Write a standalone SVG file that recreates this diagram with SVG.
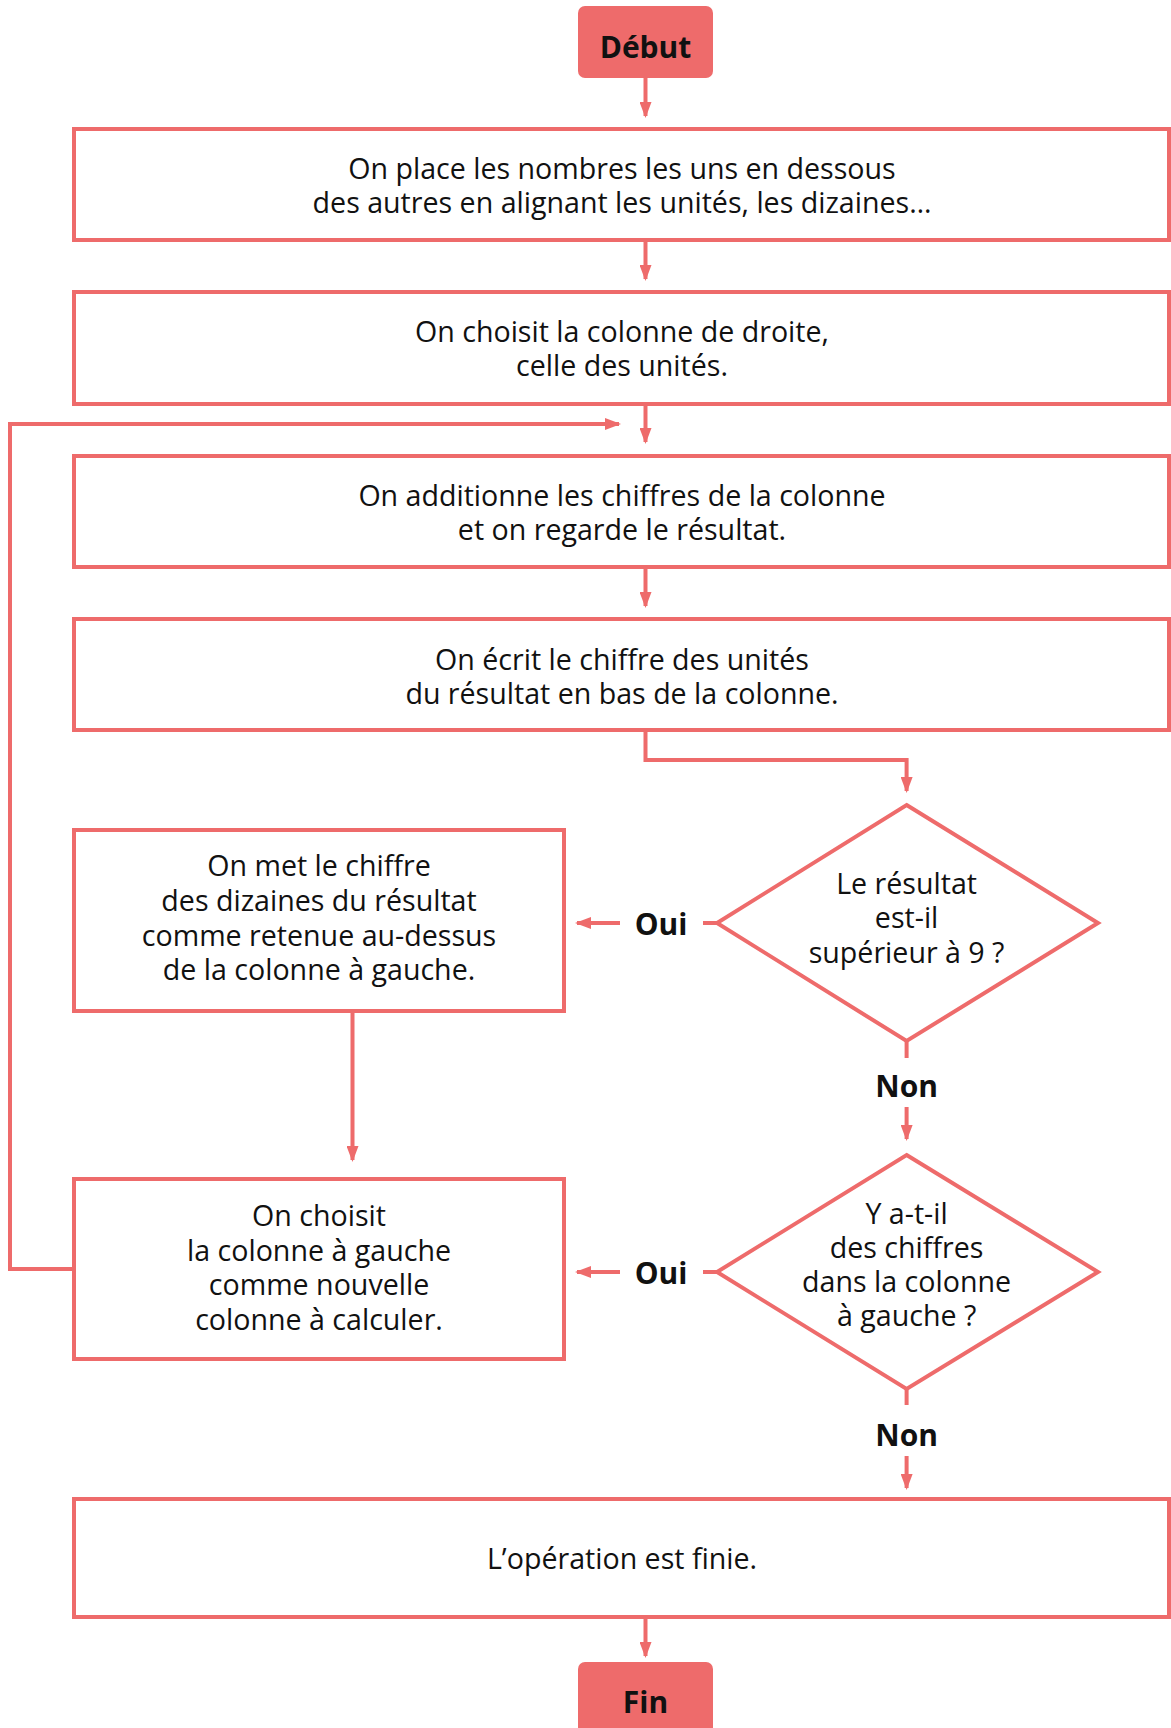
<svg xmlns="http://www.w3.org/2000/svg" width="1171" height="1728" viewBox="0 0 1171 1728">
<style>
.box{fill:#fff;stroke:#ee6b6b;stroke-width:4}
.term{fill:#ee6b6b;stroke:none}
.t{font-family:"Open Sans","Liberation Sans",sans-serif;font-size:28.6px;fill:#111;text-anchor:middle;dominant-baseline:central}
.b{font-family:"Open Sans","Liberation Sans",sans-serif;font-size:30px;font-weight:bold;fill:#111;text-anchor:middle;dominant-baseline:central}
.c{fill:none;stroke:#ee6b6b;stroke-width:4}
</style>
<defs>
<marker id="ah" viewBox="0 0 16 12" refX="14" refY="6" markerWidth="16" markerHeight="12" markerUnits="userSpaceOnUse" orient="auto">
<path d="M0,0 L16,6 L0,12 z" fill="#ee6b6b"/>
</marker>
</defs>
<rect width="1171" height="1728" fill="#fff"/>
<g id="connectors">
<path class="c" d="M645.5,77 V116" marker-end="url(#ah)"/>
<path class="c" d="M645.5,240 V279" marker-end="url(#ah)"/>
<path class="c" d="M645.5,404 V442" marker-end="url(#ah)"/>
<path class="c" d="M74,1269 H10 V424 H619" marker-end="url(#ah)"/>
<path class="c" d="M645.5,567 V606" marker-end="url(#ah)"/>
<path class="c" d="M645.5,730 V760 H906.6 V791" marker-end="url(#ah)"/>
<path class="c" d="M717,923 H703"/>
<path class="c" d="M620,923 H577" marker-end="url(#ah)"/>
<path class="c" d="M906.6,1041 V1058"/>
<path class="c" d="M906.6,1107 V1139" marker-end="url(#ah)"/>
<path class="c" d="M352.5,1011 V1160" marker-end="url(#ah)"/>
<path class="c" d="M717,1272 H703"/>
<path class="c" d="M620,1272 H577" marker-end="url(#ah)"/>
<path class="c" d="M906.6,1389 V1405"/>
<path class="c" d="M906.6,1456 V1488" marker-end="url(#ah)"/>
<path class="c" d="M645.5,1617 V1656" marker-end="url(#ah)"/>
<text class="b" x="661" y="923">Oui</text>
<text class="b" x="661" y="1272">Oui</text>
<text class="b" x="906.6" y="1085">Non</text>
<text class="b" x="906.6" y="1434">Non</text>
</g>
<g id="debut">
<rect class="term" x="578" y="6" width="135" height="72" rx="7"/>
<text class="b" x="645.5" y="46">Début</text>
</g>
<g id="box1">
<rect class="box" x="74" y="129" width="1095" height="111"/>
<text class="t" x="622" y="167">On place les nombres les uns en dessous</text>
<text class="t" x="622" y="201">des autres en alignant les unités, les dizaines…</text>
</g>
<g id="box2">
<rect class="box" x="74" y="292" width="1095" height="112"/>
<text class="t" x="622" y="330.5">On choisit la colonne de droite,</text>
<text class="t" x="622" y="364.5">celle des unités.</text>
</g>
<g id="box3">
<rect class="box" x="74" y="456" width="1095" height="111"/>
<text class="t" x="622" y="494">On additionne les chiffres de la colonne</text>
<text class="t" x="622" y="528.5">et on regarde le résultat.</text>
</g>
<g id="box4">
<rect class="box" x="74" y="619" width="1095" height="111"/>
<text class="t" x="622" y="658">On écrit le chiffre des unités</text>
<text class="t" x="622" y="692">du résultat en bas de la colonne.</text>
</g>
<g id="decision1">
<polygon class="box" points="906.6,805 1098,923 906.6,1041 717,923"/>
<text class="t" x="906.6" y="882">Le résultat</text>
<text class="t" x="906.6" y="916.5">est-il</text>
<text class="t" x="906.6" y="951">supérieur à 9 ?</text>
</g>
<g id="box5">
<rect class="box" x="74" y="830" width="490" height="181"/>
<text class="t" x="319" y="864">On met le chiffre</text>
<text class="t" x="319" y="899">des dizaines du résultat</text>
<text class="t" x="319" y="934">comme retenue au-dessus</text>
<text class="t" x="319" y="968">de la colonne à gauche.</text>
</g>
<g id="decision2">
<polygon class="box" points="906.6,1155 1098,1272 906.6,1389 717,1272"/>
<text class="t" x="906.6" y="1212">Y a-t-il</text>
<text class="t" x="906.6" y="1246">des chiffres</text>
<text class="t" x="906.6" y="1280">dans la colonne</text>
<text class="t" x="906.6" y="1314">à gauche ?</text>
</g>
<g id="box6">
<rect class="box" x="74" y="1179" width="490" height="180"/>
<text class="t" x="319" y="1214">On choisit</text>
<text class="t" x="319" y="1249">la colonne à gauche</text>
<text class="t" x="319" y="1283">comme nouvelle</text>
<text class="t" x="319" y="1318">colonne à calculer.</text>
</g>
<g id="box7">
<rect class="box" x="74" y="1499" width="1095" height="118"/>
<text class="t" x="622" y="1557">L’opération est finie.</text>
</g>
<g id="fin">
<rect class="term" x="578" y="1662" width="135" height="80" rx="7"/>
<text class="b" x="645.5" y="1701">Fin</text>
</g>
</svg>
